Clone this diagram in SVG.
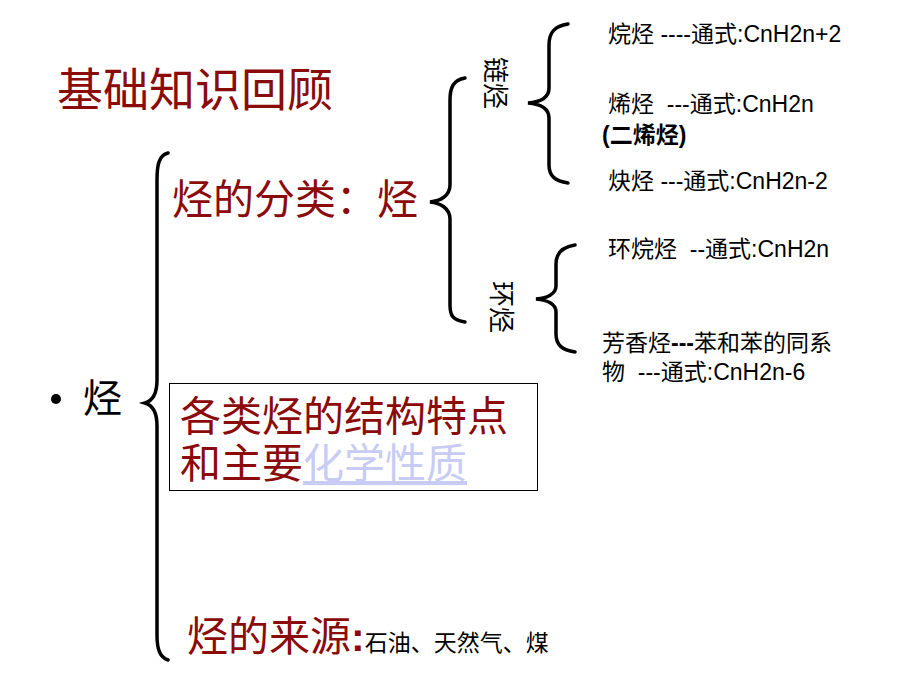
<svg xmlns="http://www.w3.org/2000/svg" width="920" height="690" viewBox="0 0 920 690">
<style>
.br{fill:none;stroke:#000;stroke-width:3.5;stroke-linecap:round}
.red{fill:#8B0A0A;font-family:"Liberation Serif","Noto Sans CJK SC",serif}
.blk{fill:#000;font-family:"Liberation Serif","Noto Sans CJK SC",serif}
.f{fill:#000;font-family:"Liberation Sans","Noto Sans CJK SC",sans-serif;font-size:23px;white-space:pre}
</style>
<rect width="920" height="690" fill="#fff"/>
<g id="connectors">
<path class="br" d="M168,153 C159,155 157,165 157,180 L157,380 C157,394 152,401 145,403 C152,405 157,412 157,426 L157,635 C157,650 160,657 168,660"/>
<path class="br" d="M465,78 C453,80 450,88 450,100 L450,185 C450,196 440,201 430,202 C440,203 450,208 450,219 L450,305 C450,316 453,320 465,322"/>
<path class="br" d="M568,24 C555,26 549,32 549,45 L549,88 C549,98 540,102 528,103 C540,104 549,108 549,118 L549,165 C549,176 555,181 568,183"/>
<path class="br" d="M575,245 C562,247 556,253 556,264 L556,286 C556,294 547,298 536,299 C547,300 556,304 556,312 L556,334 C556,345 562,350 575,352"/>
</g>
<g id="title"><text class="red" x="57" y="106" font-size="46">基础知识回顾</text></g>
<g id="root">
<circle cx="56" cy="399" r="5" fill="#000"/>
<text class="blk" x="83" y="412" font-size="39">烃</text>
</g>
<g id="classify"><text class="red" x="172" y="214" font-size="41">烃的分类：烃</text></g>
<g id="chain"><text class="blk" font-size="26" transform="translate(486,57) rotate(90)">链烃</text></g>
<g id="ring"><text class="blk" font-size="26" transform="translate(492,281) rotate(90)">环烃</text></g>
<g id="alkane"><text class="f" x="608" y="42" xml:space="preserve">烷烃 ----通式:CnH2n+2</text></g>
<g id="alkene">
<text class="f" x="608" y="112" xml:space="preserve">烯烃  ---通式:CnH2n</text>
<text class="f" x="602" y="143" font-weight="bold">(二烯烃)</text>
</g>
<g id="alkyne"><text class="f" x="608" y="189" xml:space="preserve">炔烃 ---通式:CnH2n-2</text></g>
<g id="cycloalkane"><text class="f" x="608" y="257" xml:space="preserve">环烷烃  --通式:CnH2n</text></g>
<g id="aromatic">
<text class="f" x="602" y="351">芳香烃<tspan font-weight="bold">---</tspan>苯和苯的同系</text>
<text class="f" x="602" y="380" xml:space="preserve">物  ---通式:CnH2n-6</text>
</g>
<g id="props">
<rect x="169.5" y="383.5" width="368" height="107" fill="none" stroke="#000" stroke-width="1"/>
<text class="red" x="180" y="431" font-size="41">各类烃的结构特点</text>
<text class="red" x="180" y="478" font-size="41">和主要<tspan fill="#C8CCF4" text-decoration="underline">化学性质</tspan></text>
</g>
<g id="source">
<text class="red" x="187" y="651" font-size="41">烃的来源<tspan font-family="Liberation Sans,sans-serif" font-weight="bold">:</tspan><tspan class="blk" font-size="23">石油、天然气、煤</tspan></text>
</g>
</svg>
